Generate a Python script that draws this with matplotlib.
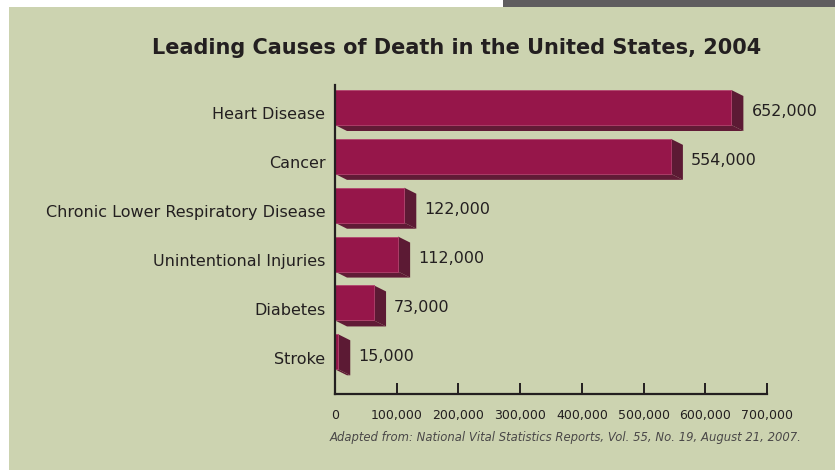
import matplotlib
matplotlib.use('Agg')
import matplotlib.pyplot as plt
from matplotlib.patches import Polygon, Rectangle

causes = ['Heart Disease', 'Cancer', 'Chronic Lower Respiratory Disease',
          'Unintentional Injuries', 'Diabetes', 'Stroke']
deaths = [652000, 554000, 122000, 112000, 73000, 15000]
value_labels = ['652,000', '554,000', '122,000', '112,000', '73,000', '15,000']
xticks = [0, 100000, 200000, 300000, 400000, 500000, 600000, 700000]
xtick_labels = ['0', '100,000', '200,000', '300,000', '400,000', '500,000',
                '600,000', '700,000']
title = 'Leading Causes of Death in the United States, 2004'
source = 'Adapted from: National Vital Statistics Reports, Vol. 55, No. 19, August 21, 2007.'

W, H = 835, 470
bg = '#ccd3b0'
front_c = '#96164a'
side_c = '#5c1a34'
bottom_c = '#611b36'
txt_c = '#231f20'

fig = plt.figure(figsize=(W / 100, H / 100), dpi=100)
fig.patch.set_facecolor('white')

# backdrop panel + dark strip at top right
fig.patches.append(Rectangle((9 / W, 0), 1 - 9 / W, 1 - 7 / H, transform=fig.transFigure,
                             facecolor=bg, edgecolor='none', zorder=-10))
fig.patches.append(Rectangle((503 / W, 1 - 7 / H), 1 - 503 / W, 7 / H, transform=fig.transFigure,
                             facecolor='#5f5d5f', edgecolor='none', zorder=-10))

# axes: x=0 at px 335, 700k at px 767; top px 85, bottom (axis line) px 394
ax = fig.add_axes([335 / W, 1 - 394 / H, 432 / W, 309 / H])
ax.set_facecolor('none')

pitch = 48.86          # px per row
row0 = 107.5           # px centre of first front face
ax.set_xlim(0, 700000)
ax.set_ylim((394 - row0) / pitch, (85 - row0) / pitch)

px_x = 700000 / 432    # data units per px in x
h = 35 / pitch
dx = 12 * px_x
dy = 6 / pitch

# value sits in the middle of the bar's depth
for i, v in enumerate(deaths):
    top = i - h / 2
    bot = i + h / 2
    f = v - dx / 2
    ax.add_patch(Polygon([(0, bot), (f, bot), (f + dx, bot + dy), (dx, bot + dy)],
                         closed=True, facecolor=bottom_c, edgecolor='none', zorder=2))
    ax.add_patch(Polygon([(f, top), (f + dx, top + dy), (f + dx, bot + dy), (f, bot)],
                         closed=True, facecolor=side_c, edgecolor='none', zorder=2))
    ax.add_patch(Rectangle((0, top), f, h, facecolor=front_c,
                           edgecolor='#b2436e', linewidth=0.6, zorder=3))
    ax.text(f + dx + 8 * px_x, i + dy / 2 + 0.03, value_labels[i], fontsize=11.5,
            color=txt_c, ha='left', va='center')

for s in ['top', 'right']:
    ax.spines[s].set_visible(False)
ax.spines['left'].set_linewidth(1.6)
ax.spines['bottom'].set_linewidth(1.6)
ax.spines['left'].set_color(txt_c)
ax.spines['bottom'].set_color(txt_c)
ax.spines['left'].set_zorder(5)

ax.set_yticks([i + dy / 2 + 0.06 for i in range(len(causes))])
ax.set_yticklabels(causes, fontsize=11.5, color=txt_c)
ax.tick_params(axis='y', length=0, pad=7)

ax.set_xticks(xticks)
ax.set_xticklabels(xtick_labels, fontsize=9, color=txt_c)
ax.tick_params(axis='x', direction='in', length=8, width=1.4, color=txt_c, pad=11)
ax.get_xticklines()[0].set_visible(False)

fig.text(457 / W, 1 - 48 / H, title, fontsize=15, fontweight='bold', color=txt_c,
         ha='center', va='center')
fig.text(330 / W, 1 - 437 / H, source, fontsize=8.4, style='italic', color='#4a4848',
         ha='left', va='center')

fig.savefig('out.png', dpi=100, facecolor=fig.get_facecolor())
